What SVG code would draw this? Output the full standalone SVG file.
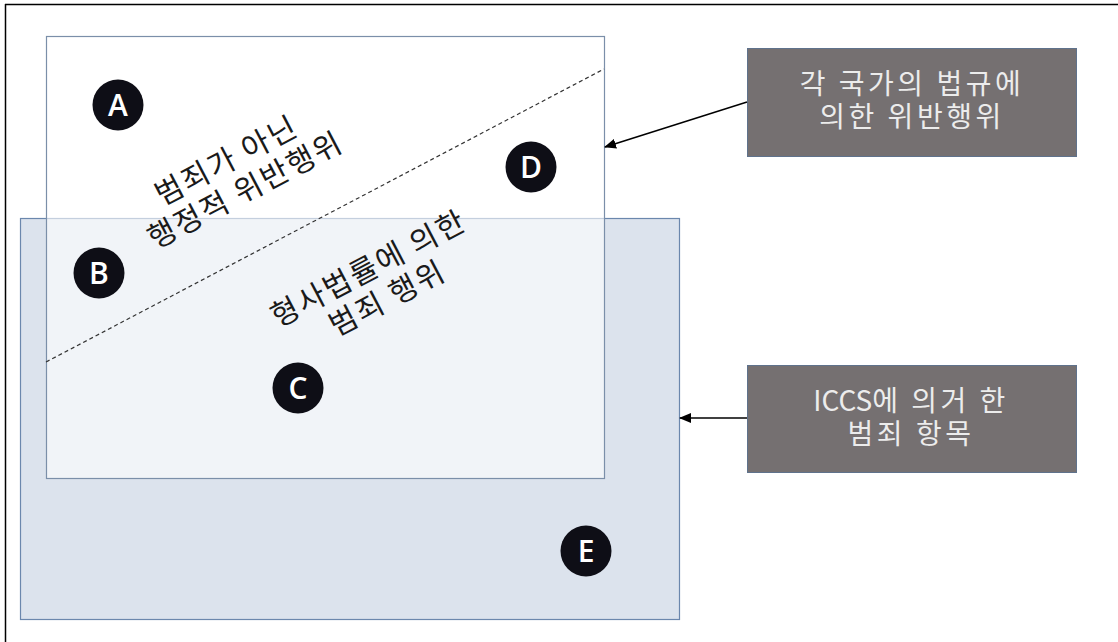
<svg xmlns="http://www.w3.org/2000/svg" width="1118" height="642" viewBox="0 0 1118 642">
<style>
.kr{font-family:"Noto Sans CJK KR","Noto Sans",sans-serif;font-size:30px;fill:#1a1a1a;text-anchor:middle;letter-spacing:2px}
.box{fill:#757071;stroke:#5f728c;stroke-width:1}
.boxt{font-family:"Noto Sans CJK KR","Noto Sans",sans-serif;font-size:28px;fill:#ececec;text-anchor:middle;letter-spacing:3.5px}
.dot{fill:#0e0e16}
.lt{font-family:"Open Sans","Liberation Sans",sans-serif;font-size:30px;font-weight:600;fill:#ffffff;text-anchor:middle}
.con{stroke:#000;stroke-width:1.5;fill:none}
</style>
<defs>
<marker id="ah" markerWidth="12" markerHeight="10" refX="11" refY="5" orient="auto" markerUnits="userSpaceOnUse">
<path d="M0,0 L12,5 L0,10 z" fill="#000"/>
</marker>
</defs>
<rect width="1118" height="642" fill="#fff"/>
<g id="frame">
<line x1="5" y1="4.5" x2="1118" y2="4.5" stroke="#000" stroke-width="1.5"/>
<line x1="5.5" y1="4" x2="5.5" y2="642" stroke="#000" stroke-width="1.5"/>
</g>
<g id="iccs-area">
<rect x="20.5" y="218.5" width="659" height="401" fill="#dce3ed" stroke="#6b87ad" stroke-width="1.2"/>
</g>
<g id="national-area">
<rect x="46.5" y="36.5" width="558" height="442" fill="#ffffff" fill-opacity="0.6" stroke="#7b8fa9" stroke-width="1.2"/>
</g>
<g id="divider">
<line x1="46" y1="362" x2="604" y2="69" stroke="#333" stroke-width="1.2" stroke-dasharray="4,3"/>
</g>
<g id="label-admin" transform="translate(235,177) rotate(-27.7)">
<text class="kr" x="0" y="-8">범죄가 아닌</text>
<text class="kr" x="3" y="27">행정적 위반행위</text>
</g>
<g id="label-criminal" transform="translate(377,285) rotate(-27.7)">
<text class="kr" x="0" y="-8">형사법률에 의한</text>
<text class="kr" x="3" y="27">범죄 행위</text>
</g>
<g id="A"><circle class="dot" cx="118" cy="105" r="25.5"/><text class="lt" x="118" y="116">A</text></g>
<g id="B"><circle class="dot" cx="99" cy="273" r="25.5"/><text class="lt" x="99" y="284">B</text></g>
<g id="C"><circle class="dot" cx="298" cy="388" r="25.5"/><text class="lt" x="298" y="399">C</text></g>
<g id="D"><circle class="dot" cx="531" cy="167" r="25.5"/><text class="lt" x="531" y="178">D</text></g>
<g id="E"><circle class="dot" cx="586" cy="551" r="25.5"/><text class="lt" x="586" y="562">E</text></g>
<g id="box-national">
<rect class="box" x="747.5" y="48.5" width="329" height="108"/>
<text class="boxt" x="912" y="94">각 국가의 법규에</text>
<text class="boxt" x="912" y="127">의한 위반행위</text>
</g>
<g id="box-iccs">
<rect class="box" x="747.5" y="365.5" width="329" height="107"/>
<text class="boxt" x="911" y="411"><tspan style="letter-spacing:0">ICCS</tspan>에 의거 한</text>
<text class="boxt" x="911" y="444">범죄 항목</text>
</g>
<g id="connectors">
<line class="con" x1="747" y1="102" x2="605" y2="147" marker-end="url(#ah)"/>
<line class="con" x1="747" y1="418" x2="680" y2="418" marker-end="url(#ah)"/>
</g>
</svg>
